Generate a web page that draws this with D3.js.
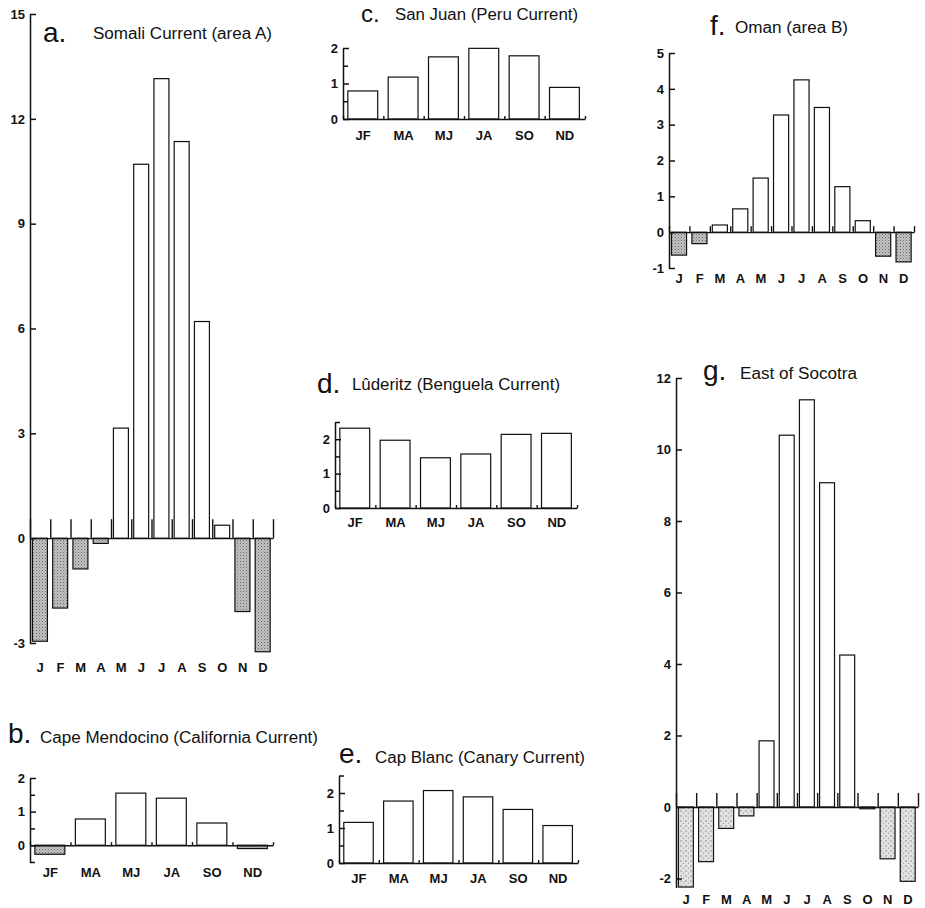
<!DOCTYPE html>
<html lang="en">
<head>
<meta charset="UTF-8">
<title>Seasonal upwelling</title>
<script src="https://cdn.jsdelivr.net/npm/d3@7"></script>
<style>
  * { box-sizing: border-box; margin: 0; padding: 0; }
  body { background: #fff; }
  text { font-family: "Liberation Sans", Arial, sans-serif; fill: #111; }
</style>
</head>
<body>
<svg width="925" height="908"></svg>
<script>
// categories
var months = ["J", "F", "M", "A", "M", "J", "J", "A", "S", "O", "N", "D"];
var bimonths = ["JF", "MA", "MJ", "JA", "SO", "ND"];

// series
var somaliA = [-2.95, -2.0, -0.88, -0.15, 3.15, 10.7, 13.15, 11.35, 6.2, 0.37, -2.1, -3.25];
var capeMendocino = [-0.27, 0.78, 1.55, 1.4, 0.66, -0.1];
var sanJuan = [0.79, 1.18, 1.75, 1.99, 1.78, 0.89];
var luderitz = [2.32, 1.97, 1.46, 1.57, 2.14, 2.17];
var capBlanc = [1.16, 1.77, 2.07, 1.89, 1.53, 1.07];
var omanB = [-0.64, -0.32, 0.2, 0.65, 1.51, 3.27, 4.25, 3.48, 1.27, 0.32, -0.67, -0.83];
var eastSocotra = [-2.24, -1.53, -0.6, -0.25, 1.85, 10.4, 11.39, 9.07, 4.25, -0.05, -1.45, -2.08];

// tick labels
var ticksA = [15, 12, 9, 6, 3, 0, -3];
var ticksSmall = [2, 1, 0];
var minorB = [1.5, 0.5, -0.5];
var minorC = [1.5, 0.5];
var minorDE = [2.5, 1.5, 0.5];
var ticksF = [5, 4, 3, 2, 1, 0, -1];
var ticksG = [12, 10, 8, 6, 4, 2, 0, -2];

var svg = d3.select("svg");
var defs = svg.append("defs");

// stipple fills for negative bars
var p1 = defs.append("pattern").attr("id", "stip").attr("width", 3).attr("height", 3)
    .attr("patternUnits", "userSpaceOnUse");
p1.append("rect").attr("width", 3).attr("height", 3).attr("fill", "#c2c2c2");
p1.append("rect").attr("x", 0).attr("y", 0).attr("width", 1).attr("height", 1).attr("fill", "#6a6a6a");
p1.append("rect").attr("x", 1.5).attr("y", 1.5).attr("width", 1).attr("height", 1).attr("fill", "#8a8a8a");

var p2 = defs.append("pattern").attr("id", "stipLight").attr("width", 5).attr("height", 5)
    .attr("patternUnits", "userSpaceOnUse");
p2.append("rect").attr("width", 5).attr("height", 5).attr("fill", "#e2e2e2");
p2.append("circle").attr("cx", 1).attr("cy", 1).attr("r", 0.7).attr("fill", "#777");
p2.append("circle").attr("cx", 3.5).attr("cy", 3.2).attr("r", 0.6).attr("fill", "#999");

function drawPanel(p) {
    var g = svg.append("g");
    var x = d3.scaleBand().domain(d3.range(p.cats.length)).range([p.x0, p.x1]);
    var y = d3.scaleLinear().domain(p.domain).range(p.yRange);
    var bw = x.bandwidth();

    g.selectAll("rect.bar")
        .data(p.values)
        .enter()
        .append("rect")
        .attr("class", "bar")
        .attr("x", function (d, i) { return x(i) + bw * 0.12; })
        .attr("width", bw * 0.74)
        .attr("y", function (d) { return y(Math.max(0, d)); })
        .attr("height", function (d) { return Math.abs(y(d) - y(0)); })
        .attr("fill", function (d) { return d < 0 ? "url(#" + p.pattern + ")" : "#fff"; })
        .attr("stroke", "#111")
        .attr("stroke-width", 1.2);

    // zero line with upward ticks at the band edges
    var edge = d3.scaleLinear().domain([0, p.cats.length]).range([p.x0, p.x1]);
    var xa = g.append("g")
        .attr("transform", "translate(0," + y(0) + ")")
        .call(d3.axisTop(edge).tickValues(d3.range(p.cats.length + 1))
            .tickSize(p.xTick).tickSizeOuter(0).tickFormat(""));
    xa.selectAll("path, line").attr("stroke", "#111").attr("stroke-width", 1.4);

    // category labels
    var lab = g.append("g")
        .attr("transform", "translate(0," + p.labelY + ")")
        .call(d3.axisBottom(x).tickSize(0).tickPadding(0)
            .tickFormat(function (i) { return p.cats[i]; }));
    lab.select(".domain").remove();
    lab.selectAll("text").attr("dy", "0.35em")
        .style("font-size", "13px").style("font-weight", "bold")
        .style("font-family", "'Liberation Sans', Arial, sans-serif");

    // y axis with inward ticks
    var ya = g.append("g")
        .attr("transform", "translate(" + p.x0 + ",0)")
        .call(d3.axisLeft(y).tickValues(p.ticks).tickSizeInner(-6).tickSizeOuter(0)
            .tickPadding(5).tickFormat(function (d) { return String(d); }));
    ya.selectAll("path, line").attr("stroke", "#111").attr("stroke-width", 1.5);
    ya.selectAll("text")
        .style("font-size", "13px").style("font-weight", "bold")
        .style("font-family", "'Liberation Sans', Arial, sans-serif");
    if (p.minor) {
        var ym = g.append("g")
            .attr("transform", "translate(" + p.x0 + ",0)")
            .call(d3.axisLeft(y).tickValues(p.minor).tickSizeInner(-5).tickSizeOuter(0).tickFormat(""));
        ym.select(".domain").remove();
        ym.selectAll("line").attr("stroke", "#111").attr("stroke-width", 1.5);
    }

    // title
    g.append("text")
        .attr("x", p.letter[0]).attr("y", p.letter[1])
        .style("font-size", (p.letter[3] || 28) + "px")
        .text(p.letter[2]);
    g.append("text")
        .attr("x", p.name[0]).attr("y", p.name[1])
        .attr("textLength", p.name[3]).attr("lengthAdjust", "spacingAndGlyphs")
        .style("font-size", "16px")
        .text(p.name[2]);
}

drawPanel({
    cats: months, values: somaliA, pattern: "stip",
    x0: 30, x1: 273, domain: [-3, 15], yRange: [643, 14],
    ticks: ticksA, xTick: 19, labelY: 667,
    letter: [43, 42, "a."], name: [93, 39, "Somali Current (area A)", 179]
});
drawPanel({
    cats: bimonths, values: capeMendocino, pattern: "stip",
    x0: 30, x1: 273, domain: [-0.5, 2], yRange: [862, 778],
    ticks: ticksSmall, minor: minorB, xTick: 3, labelY: 872,
    letter: [8, 743, "b."], name: [40, 743, "Cape Mendocino (California Current)", 278]
});
drawPanel({
    cats: bimonths, values: sanJuan, pattern: "stip",
    x0: 343, x1: 585, domain: [0, 2], yRange: [119, 48],
    ticks: ticksSmall, minor: minorC, xTick: 3, labelY: 135,
    letter: [361, 22, "c.", 24], name: [395, 20, "San Juan (Peru Current)", 183]
});
drawPanel({
    cats: bimonths, values: luderitz, pattern: "stip",
    x0: 335, x1: 577, domain: [0, 2.5], yRange: [508, 422],
    ticks: ticksSmall, minor: minorDE, xTick: 3, labelY: 522,
    letter: [317, 393, "d."], name: [352, 390, "Lûderitz (Benguela Current)", 208]
});
drawPanel({
    cats: bimonths, values: capBlanc, pattern: "stip",
    x0: 339, x1: 578, domain: [0, 2.5], yRange: [863, 775.5],
    ticks: ticksSmall, minor: minorDE, xTick: 3, labelY: 878,
    letter: [339, 763, "e."], name: [375, 763, "Cap Blanc (Canary Current)", 210]
});
drawPanel({
    cats: months, values: omanB, pattern: "stip",
    x0: 669, x1: 914, domain: [-1, 5], yRange: [268, 53],
    ticks: ticksF, xTick: 6, labelY: 278,
    letter: [710, 35, "f."], name: [735, 33, "Oman (area B)", 113]
});
drawPanel({
    cats: months, values: eastSocotra, pattern: "stipLight",
    x0: 676, x1: 918, domain: [-2.25, 12], yRange: [887.4, 378],
    ticks: ticksG, xTick: 14, labelY: 899,
    letter: [703, 380, "g."], name: [740, 379, "East of Socotra", 117]
});
</script>
</body>
</html>
